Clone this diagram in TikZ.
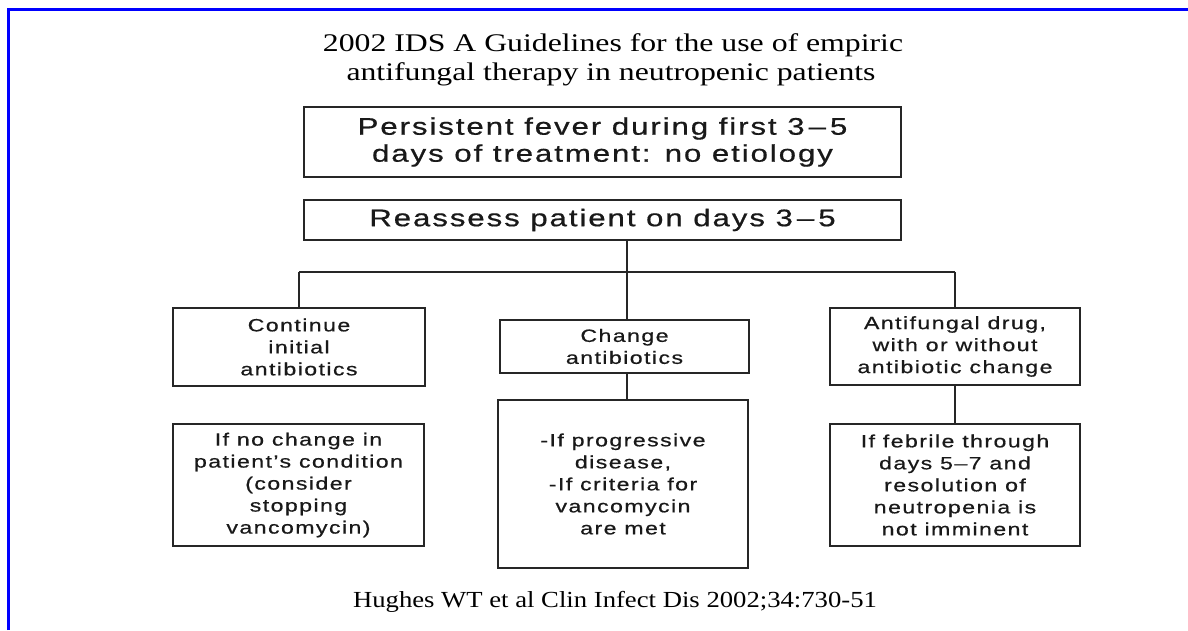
\documentclass[tikz,border=0pt]{standalone}
\usepackage{fontspec}
\setmainfont{Liberation Serif}
\newfontfamily\ttlfont{Liberation Serif}[FakeStretch=1.25]
\newfontfamily\ftfont{Liberation Serif}[FakeStretch=1.16]
\newfontfamily\bxfont{Liberation Sans}[FakeStretch=1.3,LetterSpace=8,FakeBold=0.6]
\begin{document}
\begin{tikzpicture}[x=1pt,y=1pt,
  box/.style={draw=black!85, line width=1.2pt, rectangle, inner sep=0pt, align=center, text=black!90},
  big/.style={font=\bxfont\fontsize{24}{27}\selectfont},
  small/.style={font=\bxfont\fontsize{17.8}{22}\selectfont},
  conn/.style={draw=black!85, line width=1.2pt},
  ttl/.style={font=\ttlfont\fontsize{25.4}{28.5}\selectfont, anchor=base, inner sep=0pt},
  foot/.style={font=\ftfont\fontsize{23}{27}\selectfont, anchor=base, inner sep=0pt}]
\useasboundingbox (0,0) rectangle (1188,630);
\fill[white] (0,0) rectangle (1188,630);
% blue frame
\draw[blue, line width=3.5pt] (8.5,0) -- (8.5,620.5) -- (1188,620.5);
% title
\node[ttl] (t1) at (613,578) {2002 IDS A Guidelines for the use of empiric};
\node[ttl] (t2) at (611,549.5) {antifungal therapy in neutropenic patients};
% boxes
\node[box, big, minimum width=597, minimum height=70] (b1) at (602.5,488) {Persistent fever during first 3\,–\,5\\days of treatment: no etiology};
\node[box, big, minimum width=597, minimum height=40] (b2) at (602.5,410) {Reassess patient on days 3\,–\,5};
\node[box, small, minimum width=252, minimum height=78] (cont) at (299,283) {Continue\\initial\\antibiotics};
\node[box, small, minimum width=249, minimum height=53] (chg) at (624.5,283.5) {Change\\antibiotics};
\node[box, small, minimum width=250, minimum height=77] (anti) at (955,283.5) {Antifungal drug,\\with or without\\antibiotic change};
\node[box, small, minimum width=251, minimum height=122] (nochg) at (298.5,145) {If no change in\\patient’s condition\\(consider\\stopping\\vancomycin)};
\node[box, small, minimum width=250, minimum height=168] (mid) at (623,146) {-If progressive\\disease,\\-If criteria for\\vancomycin\\are met};
\node[box, small, minimum width=250, minimum height=122] (feb) at (955,145) {If febrile through\\days 5–7 and\\resolution of\\neutropenia is\\not imminent};
% connectors
\coordinate (j) at (627,358);
\draw[conn] (b2.south -| j) -- (j);
\draw[conn] (cont.north |- j) -- (anti.north |- j);
\draw[conn] (cont.north |- j) -- (cont.north);
\draw[conn] (j) -- (j |- chg.north);
\draw[conn] (anti.north |- j) -- (anti.north);
\draw[conn] (chg.south -| j) -- (mid.north -| j);
\draw[conn] (anti.south) -- (feb.north);
% footer
\node[foot] (ft) at (615,23) {Hughes WT et al Clin Infect Dis 2002;34:730-51};
\end{tikzpicture}
\end{document}
